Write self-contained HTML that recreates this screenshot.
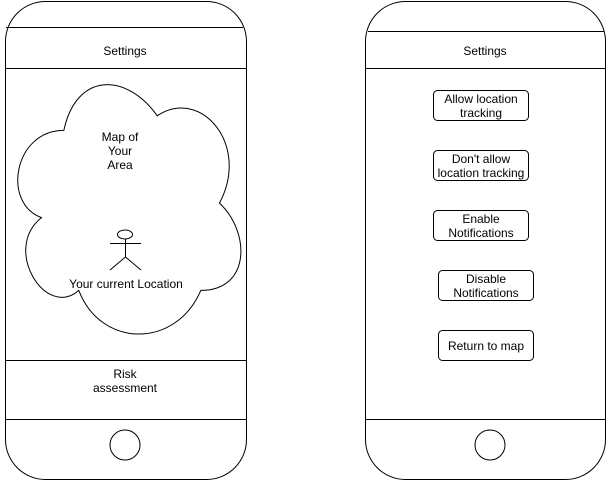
<!DOCTYPE html>
<html><head><meta charset="utf-8"><style>
html,body{margin:0;padding:0;background:#fff;}
svg text{font-family:"Liberation Sans",Arial,sans-serif;font-size:12px;fill:#000;}
</style></head><body>
<svg width="607" height="481" viewBox="0 0 607 481" xmlns="http://www.w3.org/2000/svg">
<g fill="none" stroke="#000" stroke-width="1">
<rect x="5.5" y="1.5" width="241" height="478" rx="40" ry="40" fill="#fff"/>
<line x1="6" y1="27.5" x2="243" y2="27.5"/>
<line x1="5" y1="68.5" x2="246" y2="68.5"/>
<line x1="5" y1="360.5" x2="246" y2="360.5"/>
<line x1="5" y1="419.5" x2="246" y2="419.5"/>
<circle cx="125" cy="445" r="15"/>
<path transform="translate(1.6,57.6) scale(249,291)" vector-effect="non-scaling-stroke" d="M0.25 0.25 C0.05 0.25 0 0.5 0.16 0.55 C0 0.66 0.18 0.9 0.31 0.8 C0.4 1 0.7 1 0.8 0.8 C1 0.8 1 0.6 0.875 0.5 C1 0.3 0.8 0.1 0.625 0.2 C0.5 0.05 0.3 0.05 0.25 0.25 Z"/>
<ellipse cx="125" cy="234.5" rx="7.5" ry="4.5"/>
<line x1="110" y1="243.5" x2="141" y2="243.5"/>
<line x1="125.5" y1="239" x2="125.5" y2="257"/>
<line x1="125.5" y1="257" x2="110" y2="270"/>
<line x1="125.5" y1="257" x2="141" y2="270"/>
<rect x="365.5" y="1.5" width="240" height="478" rx="40" ry="40" fill="#fff"/>
<line x1="368" y1="31.5" x2="604" y2="31.5"/>
<line x1="365" y1="68.5" x2="606" y2="68.5"/>
<line x1="365" y1="419.5" x2="606" y2="419.5"/>
<circle cx="490" cy="445" r="15"/>
<rect x="433.5" y="90.5" width="95" height="30" rx="4"/>
<rect x="433.5" y="150.5" width="95" height="30" rx="4"/>
<rect x="433.5" y="210.5" width="95" height="30" rx="4"/>
<rect x="438.5" y="270.5" width="95" height="30" rx="4"/>
<rect x="438.5" y="330.5" width="95" height="30" rx="4"/>
</g>
<g text-anchor="middle">
<text x="125" y="55">Settings</text>
<text x="120" y="141">Map of</text>
<text x="120" y="155">Your</text>
<text x="120" y="169">Area</text>
<text x="126" y="288">Your current Location</text>
<text x="125" y="378">Risk</text>
<text x="125" y="392">assessment</text>
<text x="485" y="55">Settings</text>
<text x="481" y="103">Allow location</text>
<text x="481" y="117">tracking</text>
<text x="481" y="163">Don't allow</text>
<text x="481" y="177">location tracking</text>
<text x="481" y="223">Enable</text>
<text x="481" y="237">Notifications</text>
<text x="486" y="283">Disable</text>
<text x="486" y="297">Notifications</text>
<text x="486" y="350">Return to map</text>
</g>
</svg>
</body></html>
